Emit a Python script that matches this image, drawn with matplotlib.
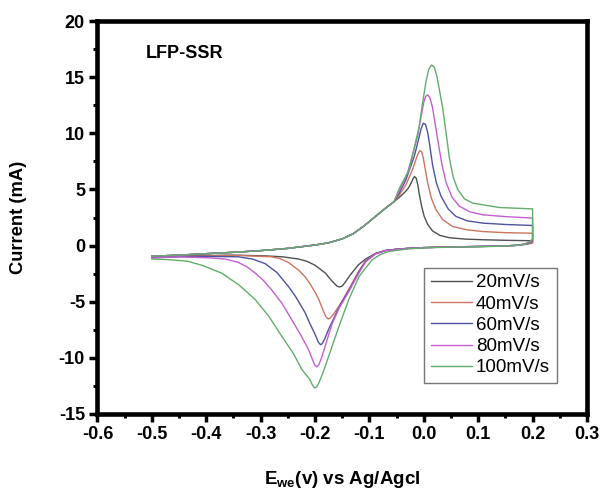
import matplotlib
matplotlib.use("Agg")
import matplotlib.pyplot as plt
from matplotlib.ticker import MultipleLocator, FormatStrFormatter

plt.rcParams['font.family'] = ['Liberation Sans', 'DejaVu Sans']
plt.rcParams['axes.unicode_minus'] = False
plt.rcParams['mathtext.fontset'] = 'custom'
plt.rcParams['mathtext.rm'] = 'Liberation Sans:bold'
plt.rcParams['mathtext.bf'] = 'Liberation Sans:bold'

# scan rates and colours
labels = ['20mV/s', '40mV/s', '60mV/s', '80mV/s', '100mV/s']
colors = ['#505050', '#cc7560', '#4f52a0', '#c45fd0', '#62ad6c']

# shared start of the anodic sweep (E in V, I in mA)
base_e = [-0.5, -0.45, -0.4, -0.35, -0.3, -0.25, -0.2, -0.175, -0.15, -0.13, -0.11, -0.09, -0.07, -0.055]
base_i = [-0.95, -0.85, -0.72, -0.6, -0.45, -0.25, 0.05, 0.25, 0.6, 1.05, 1.75, 2.55, 3.35, 3.9]

# anodic peaks
ox_e_20 = [-0.045, -0.035, -0.028, -0.023, -0.02, -0.017, -0.014, -0.011, -0.0085, -0.004, 0.0007, 0.007, 0.016,
           0.03, 0.047, 0.075, 0.1085, 0.15, 0.2]
ox_i_20 = [4.3, 4.75, 5.15, 5.6, 5.95, 6.15, 6.0, 5.4, 4.6, 3.5, 2.6, 1.9, 1.3,
           0.9, 0.7, 0.58, 0.52, 0.47, 0.43]
ox_e_40 = [-0.045, -0.033, -0.021, -0.015, -0.011, -0.0074, -0.004, -0.001, 0.003, 0.0069, 0.014, 0.0223, 0.035,
           0.053, 0.08, 0.1085, 0.15, 0.2]
ox_i_40 = [4.5, 5.41, 6.74, 7.6, 8.15, 8.46, 8.35, 7.8, 6.7, 5.6, 4.2, 3.2, 2.3,
           1.7, 1.4, 1.25, 1.15, 1.1]
ox_e_60 = [-0.045, -0.033, -0.0177, -0.01, -0.005, -0.001, 0.003, 0.007, 0.011, 0.016, 0.023, 0.0316, 0.045,
           0.059, 0.08, 0.1085, 0.15, 0.2]
ox_i_60 = [4.7, 5.85, 7.93, 9.4, 10.4, 10.9, 10.8, 10.1, 8.9, 7.2, 5.6, 4.4, 3.25,
           2.6, 2.2, 2.0, 1.88, 1.79]
ox_e_80 = [-0.045, -0.03, -0.0117, -0.005, 0.0, 0.0035, 0.0069, 0.011, 0.016, 0.0253, 0.033, 0.041, 0.052,
           0.0654, 0.085, 0.1085, 0.15, 0.2]
ox_i_80 = [4.9, 6.45, 9.71, 11.5, 12.8, 13.3, 13.42, 13.2, 12.3, 9.5, 7.3, 5.6, 4.3,
           3.5, 3.0, 2.74, 2.58, 2.45]
ox_e_100 = [-0.045, -0.027, -0.0085, -0.002, 0.004, 0.009, 0.0143, 0.019, 0.024, 0.0346, 0.041, 0.047, 0.054,
            0.0623, 0.075, 0.09, 0.139, 0.2]
ox_i_100 = [5.1, 6.74, 10.6, 12.8, 14.6, 15.7, 16.09, 15.9, 15.1, 12.3, 10.0, 7.8, 6.1,
            5.0, 4.15, 3.78, 3.39, 3.27]

# cathodic sweeps, from 0.2 V back to -0.5 V
red_e_20 = [0.2, 0.195, 0.185, 0.17, 0.14, 0.1, 0.05, 0.0, -0.03, -0.05, -0.07, -0.089, -0.107, -0.12, -0.135,
            -0.145, -0.15, -0.155, -0.16, -0.17, -0.181, -0.2, -0.215, -0.23, -0.26, -0.29, -0.35, -0.42, -0.5]
red_i_20 = [0.25, 0.18, 0.1, 0.02, -0.05, -0.08, -0.12, -0.18, -0.25, -0.32, -0.45, -0.7, -1.2, -1.7, -2.6,
            -3.3, -3.6, -3.69, -3.6, -3.1, -2.45, -1.75, -1.4, -1.2, -1.0, -0.92, -0.85, -0.9, -1.0]
red_e_40 = [0.2, 0.195, 0.185, 0.17, 0.14, 0.1, 0.05, 0.0, -0.03, -0.05, -0.07, -0.089, -0.107, -0.12, -0.138,
            -0.156, -0.166, -0.172, -0.176, -0.18, -0.185, -0.193, -0.2, -0.21, -0.218, -0.23, -0.249, -0.265,
            -0.28, -0.34, -0.42, -0.5]
red_i_40 = [0.3, 0.2, 0.1, 0.02, -0.05, -0.08, -0.12, -0.18, -0.25, -0.33, -0.42, -0.72, -1.35, -2.3, -3.9,
            -5.4, -6.1, -6.45, -6.54, -6.35, -5.8, -4.8, -4.15, -3.35, -2.8, -2.2, -1.5, -1.15,
            -1.0, -0.88, -0.92, -1.05]
red_e_60 = [0.2, 0.195, 0.185, 0.17, 0.14, 0.1, 0.05, 0.0, -0.03, -0.05, -0.07, -0.089, -0.107, -0.12, -0.138,
            -0.156, -0.175, -0.183, -0.187, -0.19, -0.194, -0.2, -0.21, -0.218, -0.235, -0.249, -0.27, -0.292,
            -0.315, -0.341, -0.42, -0.5]
red_i_60 = [0.45, 0.28, 0.12, 0.02, -0.05, -0.08, -0.12, -0.18, -0.25, -0.33, -0.43, -0.73, -1.4, -2.4, -4.0,
            -5.5, -7.45, -8.4, -8.75, -8.83, -8.6, -7.9, -6.9, -6.0, -4.6, -3.64, -2.4, -1.6,
            -1.2, -1.0, -0.95, -1.08]
red_e_80 = [0.2, 0.195, 0.185, 0.17, 0.14, 0.1, 0.05, 0.0, -0.03, -0.05, -0.07, -0.089, -0.107, -0.12, -0.138,
            -0.156, -0.169, -0.181, -0.188, -0.193, -0.197, -0.201, -0.206, -0.212, -0.227, -0.243, -0.26, -0.28,
            -0.295, -0.31, -0.325, -0.341, -0.365, -0.39, -0.45, -0.5]
red_i_80 = [0.55, 0.32, 0.13, 0.02, -0.05, -0.08, -0.12, -0.18, -0.26, -0.34, -0.44, -0.75, -1.45, -2.5, -4.1,
            -5.6, -7.0, -8.9, -10.0, -10.6, -10.8, -10.6, -10.0, -9.27, -7.9, -6.6, -5.2, -3.93,
            -3.1, -2.45, -1.9, -1.5, -1.2, -1.1, -1.0, -1.1]
red_e_100 = [0.2, 0.195, 0.185, 0.17, 0.14, 0.1, 0.05, 0.0, -0.03, -0.064, -0.08, -0.095, -0.119, -0.138, -0.156,
             -0.175, -0.186, -0.193, -0.197, -0.201, -0.205, -0.21, -0.224, -0.24, -0.261, -0.285, -0.31, -0.34,
             -0.372, -0.405, -0.434, -0.47, -0.5]
red_i_100 = [0.6, 0.35, 0.14, 0.02, -0.06, -0.1, -0.14, -0.2, -0.3, -0.52, -0.8, -1.26, -2.75, -4.8, -7.2,
             -9.87, -11.4, -12.23, -12.6, -12.68, -12.4, -11.9, -11.05, -9.6, -8.09, -6.3, -4.8, -3.5,
             -2.45, -1.8, -1.4, -1.25, -1.2]

ox_e = [ox_e_20, ox_e_40, ox_e_60, ox_e_80, ox_e_100]
ox_i = [ox_i_20, ox_i_40, ox_i_60, ox_i_80, ox_i_100]
red_e = [red_e_20, red_e_40, red_e_60, red_e_80, red_e_100]
red_i = [red_i_20, red_i_40, red_i_60, red_i_80, red_i_100]

fig = plt.figure(figsize=(6.01, 4.93), dpi=100)
ax = fig.add_axes([0.1622, 0.1603, 0.8145, 0.797])

for k in range(len(labels)):
    e = base_e + ox_e[k] + red_e[k]
    i = base_i + ox_i[k] + red_i[k]
    ax.plot(e, i, color=colors[k], lw=1.0, label=labels[k])

ax.set_xlim(-0.6, 0.3)
ax.set_ylim(-15, 20)
ax.xaxis.set_major_locator(MultipleLocator(0.1))
ax.xaxis.set_minor_locator(MultipleLocator(0.05))
ax.xaxis.set_major_formatter(FormatStrFormatter('%.1f'))
ax.yaxis.set_major_locator(MultipleLocator(5))
ax.yaxis.set_minor_locator(MultipleLocator(2.5))

for s in ax.spines.values():
    s.set_linewidth(3.3)
ax.tick_params(which='major', direction='out', length=6, width=2.5, labelsize=13, pad=3)
ax.tick_params(which='minor', direction='out', length=3, width=2.2)
for t in ax.get_xticklabels() + ax.get_yticklabels():
    t.set_fontweight('bold')

ax.set_ylabel('Current (mA)', fontsize=13.2, fontweight='bold')
ax.yaxis.set_label_coords(-0.145, 0.5)
ax.set_xlabel(r'E$_{\mathrm{we}}$(v) vs Ag/Agcl', fontsize=13.5, fontweight='bold')
ax.xaxis.set_label_coords(0.5, -0.14)

ax.text(-0.512, 17.1, 'LFP-SSR', fontsize=13, fontweight='bold', va='center', ha='left')

leg = ax.legend(loc='upper left', bbox_to_anchor=(0.668, 0.372), borderaxespad=0,
                fontsize=13.5, handlelength=2.2, handletextpad=0.2, labelspacing=0.22,
                fancybox=False, edgecolor='#777777', framealpha=1, borderpad=0.35)
leg.get_frame().set_linewidth(1.0)

fig.savefig('out.png', dpi=100)
